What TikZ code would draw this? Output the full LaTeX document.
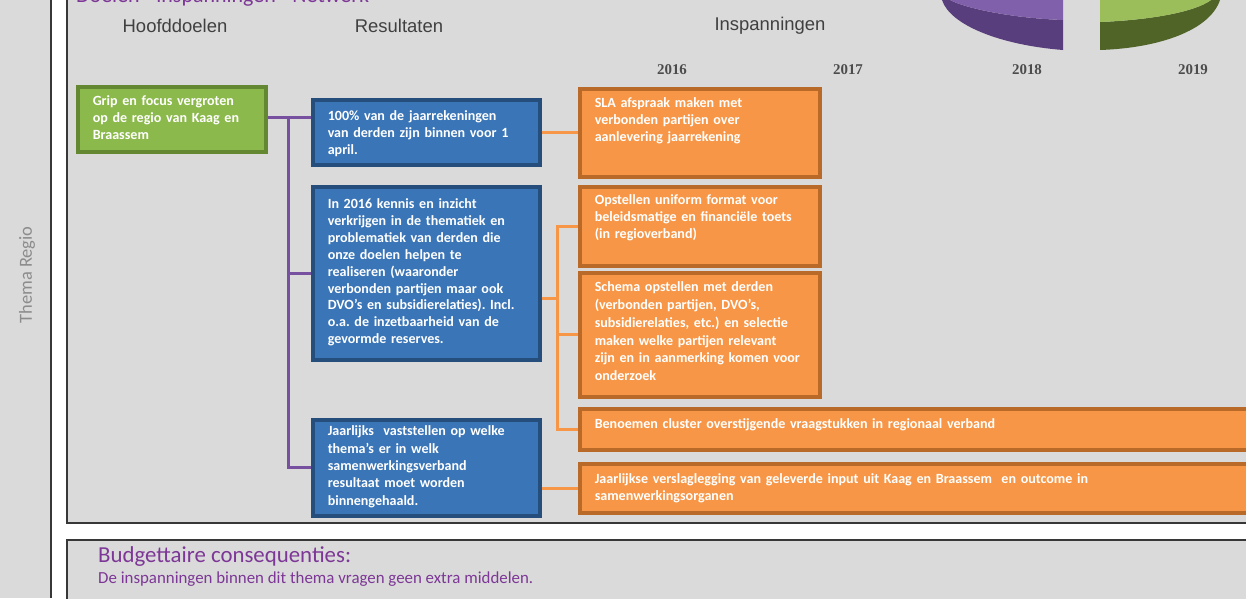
\documentclass[tikz,border=0pt]{standalone}
\usepackage{fontspec}
\setmainfont{Carlito}
\newfontfamily\headfont{Liberation Sans}
\newfontfamily\yearfont{Liberation Serif}
\usepackage{xcolor}
\definecolor{panelgray}{RGB}{218, 218, 218}
\definecolor{framegray}{RGB}{55, 55, 55}
\definecolor{goalgreen}{RGB}{140, 185, 75}
\definecolor{goalgreendk}{RGB}{100, 135, 50}
\definecolor{resblue}{RGB}{58, 117, 183}
\definecolor{resbluedk}{RGB}{38, 78, 125}
\definecolor{actorange}{RGB}{247, 150, 70}
\definecolor{actorangedk}{RGB}{185, 105, 40}
\definecolor{treepurple}{RGB}{120, 80, 160}
\definecolor{titlepurple}{RGB}{125, 55, 150}
\definecolor{piepurple}{RGB}{128, 96, 170}
\definecolor{piepurpledk}{RGB}{88, 62, 125}
\definecolor{piegreen}{RGB}{155, 190, 90}
\definecolor{piegreendk}{RGB}{80, 100, 40}
\usepackage{tikz}
\usetikzlibrary{
    arrows.meta,
    positioning,
    calc
}
\frenchspacing

\begin{document}
\begin{tikzpicture}[
    x=0.2mm, y=-0.2mm,
    every text node part/.style={align=left},
    box/.style={draw, line width=0.7mm, anchor=north west, inner xsep=3mm, inner ysep=0pt, text=white, font=\bfseries\fontsize{8}{9.5}\selectfont},
    goalbox/.style={box, fill=goalgreen, draw=goalgreendk, text width=31.6mm},
    resbox/.style={box, fill=resblue, draw=resbluedk, text width=39.4mm},
    actbox/.style={box, fill=actorange, draw=actorangedk, text width=42mm},
    widebox/.style={actbox, text width=128.4mm},
    header/.style={font=\headfont\fontsize{10.5}{12}\selectfont, text=black!75},
    year/.style={font=\yearfont\bfseries\fontsize{8.5}{10}\selectfont, text=black!70},
    purpletext/.style={anchor=base west, text=titlepurple},
    tree/.style={draw=treepurple, line width=0.6mm},
    link/.style={draw=actorange, line width=0.6mm}
]
\useasboundingbox (0,0) rectangle (1246,598);
\clip (0,0) rectangle (1246,598);

% ==================== FRAMES ====================
\fill[white] (0,0) rectangle (1246,598);
\fill[panelgray] (0,0) rectangle (51,598);
\draw[framegray, line width=0.4mm] (51,0) -- (51,598);
\filldraw[fill=panelgray, draw=framegray, line width=0.4mm] (67,-10) rectangle (1260,523);
\filldraw[fill=panelgray, draw=framegray, line width=0.4mm] (67,540) rectangle (1260,610);

\node[rotate=90, font=\fontsize{10.5}{12}\selectfont, text=black!45] (theme) at (27,275) {Thema Regio};
\node[purpletext, font=\fontsize{12.5}{14}\selectfont] (title) at (70,2) {Doelen - inspanningen - Netwerk};

% ==================== PIE (cut off at the top) ====================
\fill[piepurpledk] (942,0) .. controls (950,25) and (1000,45) .. (1063,50) -- (1063,20)
    .. controls (1010,18) and (965,8) .. (950,0) -- cycle;
\fill[piepurple] (950,0) .. controls (965,8) and (1010,18) .. (1063,20) -- (1063,0) -- cycle;
\fill[piegreendk] (1100,50) .. controls (1160,48) and (1210,30) .. (1220,0) -- (1211,0)
    .. controls (1195,12) and (1150,20) .. (1100,22) -- cycle;
\fill[piegreen] (1100,0) -- (1100,22) .. controls (1150,20) and (1195,12) .. (1211,0) -- cycle;

% ==================== HEADERS ====================
\node[header] (hd_goals) at (175,26) {Hoofddoelen};
\node[header] (hd_results) at (399,26) {Resultaten};
\node[header] (hd_efforts) at (770,26) {Inspanningen};

\node[year] (y2016) at (672,70) {2016};
\node[year] (y2017) at (848,70) {2017};
\node[year] (y2018) at (1027,70) {2018};
\node[year] (y2019) at (1193,70) {2019};

% ==================== HOOFDDOEL ====================
\node[goalbox, text height=3.8mm, text depth=9.2mm] (goal) at (76,85) {
    Grip en focus vergroten\\
    op de regio van Kaag en\\
    Braassem
};

% ==================== RESULTATEN ====================
\node[resbox, text height=4.2mm, text depth=8.8mm] (res1) at (311,98) {
    100\% van de jaarrekeningen\\
    van derden zijn binnen voor 1\\
    april.
};

\node[resbox, text height=4.4mm, text depth=30.2mm, font=\bfseries\fontsize{8}{9.6}\selectfont] (res2) at (311,185) {
    In 2016 kennis en inzicht\\
    verkrijgen in de thematiek en\\
    problematiek van derden die\\
    onze doelen helpen te\\
    realiseren (waaronder\\
    verbonden partijen maar ook\\
    DVO's en subsidierelaties). Incl.\\
    o.a. de inzetbaarheid van de\\
    gevormde reserves.
};

\node[resbox, text height=3.2mm, text depth=16mm, font=\bfseries\fontsize{8}{9.9}\selectfont] (res3) at (311,418) {
    Jaarlijks~ vaststellen op welke\\
    thema's er in welk\\
    samenwerkingsverband\\
    resultaat moet worden\\
    binnengehaald.
};

% ==================== INSPANNINGEN ====================
\node[actbox, text height=3.8mm, text depth=13.8mm] (act1) at (578,87) {
    SLA afspraak maken met\\
    verbonden partijen over\\
    aanlevering jaarrekening
};

\node[actbox, text height=3.6mm, text depth=12.2mm] (act2) at (578,185) {
    Opstellen uniform format voor\\
    beleidsmatige en financiële toets\\
    (in regioverband)
};

\node[actbox, text height=3.7mm, text depth=21.1mm, font=\bfseries\fontsize{8}{10.2}\selectfont] (act3) at (578,271) {
    Schema opstellen met derden\\
    (verbonden partijen, DVO's,\\
    subsidierelaties, etc.) en selectie\\
    maken welke partijen relevant\\
    zijn en in aanmerking komen voor\\
    onderzoek
};

\node[widebox, text height=4mm, text depth=4.2mm] (act4) at (578,407) {
    Benoemen cluster overstijgende vraagstukken in regionaal verband
};

\node[widebox, text height=4mm, text depth=5.8mm] (act5) at (578,462) {
    Jaarlijkse verslaglegging van geleverde input uit Kaag en Braassem~ en outcome in\\
    samenwerkingsorganen
};

% ==================== CONNECTORS ====================
\coordinate (trunk) at (288,117);
\draw[tree] (goal.east |- trunk) -- (res1.west |- trunk);
\draw[tree] (trunk) |- (res2.west);
\draw[tree] (trunk) |- (res3.west);

\coordinate (branch) at (557,298);
\draw[link] (res1.east |- act1.west) -- (act1.west);
\draw[link] (res2.east |- branch) -- (branch);
\draw[link] (branch) |- (act2.west);
\draw[link] (branch) |- (act3.west);
\draw[link] (branch) |- (act4.west);
\draw[link] (res3.east |- act5.west) -- (act5.west);

% ==================== BUDGET ====================
\node[purpletext, font=\fontsize{13}{15}\selectfont] (budget) at (92,562) {Budgettaire consequenties:};
\node[purpletext, font=\fontsize{9.6}{11}\selectfont] (budget_txt) at (92,583) {De inspanningen binnen dit thema vragen geen extra middelen.};

\end{tikzpicture}
\end{document}
